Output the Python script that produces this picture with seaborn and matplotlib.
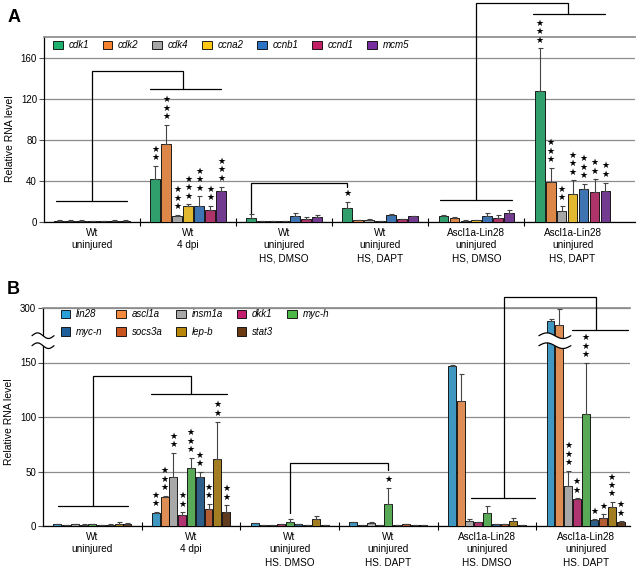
import numpy as np
import pandas as pd
import seaborn as sns
import matplotlib.pyplot as plt
import matplotlib.transforms as mtransforms
from matplotlib.patches import Patch, Polygon
from matplotlib.lines import Line2D

# group labels shared by both panels
groups = ["Wt\nuninjured", "Wt\n4 dpi", "Wt\nuninjured\nHS, DMSO", "Wt\nuninjured\nHS, DAPT",
          "Ascl1a-Lin28\nuninjured\nHS, DMSO", "Ascl1a-Lin28\nuninjured\nHS, DAPT"]

# panel A: cell cycle genes (rows = genes, columns = groups)
genes_a = ["cdk1", "cdk2", "cdk4", "ccna2", "ccnb1", "ccnd1", "mcm5"]
colors_a = ["#1db16e", "#f5822f", "#a6a6a6", "#ffc812", "#2c73c6", "#c21f66", "#772d9e"]
values_a = [[1.2, 42, 4.3, 13.3, 6.2, 127],
            [1.0, 76, 0.8, 1.6, 3.9, 38.8],
            [1.3, 5.8, 1.0, 2.3, 1.3, 10.4],
            [0.9, 15.2, 0.5, 0.7, 2.0, 27.5],
            [1.0, 15.2, 5.8, 7.1, 6.2, 31.7],
            [1.3, 11.3, 3.3, 2.6, 3.9, 29.5],
            [1.1, 30.4, 4.9, 5.8, 9.1, 30.4]]
errors_a = [[0.5, 12.3, 3.2, 6.1, 0.9, 42],
            [0.8, 18.5, 0.3, 0.4, 0.6, 13.6],
            [0.3, 0.8, 0.4, 0.8, 0.3, 5.1],
            [0.2, 2.0, 0.2, 0.2, 0.3, 12.9],
            [0.3, 9.8, 3.3, 0.6, 2.9, 5.5],
            [0.6, 4.2, 1.6, 0.4, 3.2, 11.9],
            [0.4, 3.9, 1.6, 0.5, 2.9, 7.8]]
stars_a = [[0, 2, 0, 1, 0, 3],
           [0, 3, 0, 0, 0, 3],
           [0, 3, 0, 0, 0, 2],
           [0, 3, 0, 0, 0, 3],
           [0, 3, 0, 0, 0, 3],
           [0, 2, 0, 0, 0, 2],
           [0, 3, 0, 0, 0, 2]]

# panel B: reprogramming / signalling genes
genes_b = ["lin28", "ascl1a", "insm1a", "dkk1", "myc-h", "myc-n", "socs3a", "lep-b", "stat3"]
colors_b = ["#2a9fd8", "#f58a3d", "#a8a8a8", "#c41f6e", "#4cb848", "#1f5f99", "#c9541e", "#b8860b", "#6b3a13"]
values_b = [[1.5, 11.6, 2.5, 3.4, 147, 288],
            [1.0, 26.6, 1.0, 1.0, 115, 284],
            [1.5, 45, 1.0, 2.7, 4.9, 36.7],
            [1.2, 9.8, 1.5, 1.0, 3.4, 24.8],
            [1.5, 53.6, 4.0, 19.9, 12.2, 102.6],
            [1.0, 44.7, 1.5, 1.0, 1.5, 5.5],
            [1.2, 15.9, 1.0, 1.5, 1.5, 7.7],
            [1.8, 61.5, 6.1, 1.0, 4.9, 17.1],
            [1.5, 12.9, 1.0, 1.0, 1.0, 3.7]]
errors_b = [[0.4, 1.0, 0.5, 0.5, 1.0, 1.5],
            [0.3, 0.9, 0.2, 0.2, 24, 15],
            [0.4, 22, 0.3, 1.0, 1.2, 13.8],
            [0.3, 2.7, 0.3, 0.2, 0.4, 0.5],
            [0.5, 8.6, 2.5, 15, 6.2, 46.8],
            [0.3, 4.6, 0.3, 0.2, 0.2, 0.6],
            [0.3, 4.3, 0.2, 0.3, 0.3, 3.0],
            [1.5, 34.3, 3.4, 0.2, 2.1, 4.7],
            [1.2, 6.1, 0.2, 0.2, 0.2, 0.5]]
stars_b = [[0, 2, 0, 0, 0, 0],
           [0, 3, 0, 0, 0, 0],
           [0, 2, 0, 0, 0, 3],
           [0, 2, 0, 0, 0, 2],
           [0, 3, 0, 1, 0, 3],
           [0, 2, 0, 0, 0, 1],
           [0, 2, 0, 0, 0, 1],
           [0, 2, 0, 0, 0, 3],
           [0, 2, 0, 0, 0, 2]]

sns.set_theme(style="white", rc={"text.color": "black", "axes.labelcolor": "black",
                                 "xtick.color": "black", "ytick.color": "black"})
plt.rcParams["font.family"] = ["Liberation Sans", "DejaVu Sans"]

GRID = "#8c8c8c"

# broken y axis for panel B: 165..275 squeezed into a small gap
L, U, S = 165.0, 275.0, 10.0 / 110.0


def fwd(y):
    y = np.asarray(y, dtype=float)
    return np.where(y <= L, y, np.where(y <= U, L + (y - L) * S, L + (U - L) * S + (y - U)))


def inv(t):
    t = np.asarray(t, dtype=float)
    return np.where(t <= L, t, np.where(t <= L + 10, L + (t - L) / S, U + (t - L - 10)))


def long_table(genes, values, errors, stars):
    rows = []
    for gene, vals, errs, sts in zip(genes, values, errors, stars):
        for grp, v, e, s in zip(groups, vals, errs, sts):
            rows.append((grp, gene, v, e, s))
    return pd.DataFrame(rows, columns=["group", "gene", "value", "err", "stars"])


def draw_bars(ax, genes, colors, values, errors, stars):
    df = long_table(genes, values, errors, stars)
    sns.barplot(data=df, x="group", y="value", hue="gene", order=groups, hue_order=genes,
                palette=colors, edgecolor="black", linewidth=0.6, gap=0.1,
                errorbar=None, legend=False, ax=ax, zorder=3)
    for cont, errs, sts in zip(ax.containers, errors, stars):
        bars = sorted(cont, key=lambda b: b.get_x())
        for bar, e, s in zip(bars, errs, sts):
            x = bar.get_x() + bar.get_width() / 2
            h = bar.get_height()
            ax.errorbar(x, h, yerr=[[0], [e]], fmt="none", ecolor="#444444",
                        elinewidth=0.8, capsize=1.8, capthick=0.8, zorder=4)
            for k in range(s):
                ax.annotate("\u2605", (x, h + e), xytext=(0, 6.0 + 6.1 * k),
                            textcoords="offset points", ha="center", va="center",
                            fontsize=6.5, family="DejaVu Sans", annotation_clip=False)


def style_axis(ax, xmax, ymax, yticks, label_y):
    ax.yaxis.grid(True, color=GRID, lw=0.9)
    ax.set_axisbelow(True)
    ax.spines["right"].set_visible(False)
    ax.spines["top"].set_color(GRID)
    for side in ("left", "bottom"):
        ax.spines[side].set_color("black")
        ax.spines[side].set_linewidth(0.9)
    ax.set_xticks(range(len(groups)))
    ax.set_xticklabels(groups, fontsize=7.2, linespacing=1.35)
    ax.set_xticks(np.arange(0.5, len(groups) - 1, 1), minor=True)
    ax.tick_params(axis="x", which="major", length=0, pad=4)
    ax.tick_params(axis="x", which="minor", bottom=True, length=6, width=0.8,
                   direction="inout", color="black")
    ax.set_yticks(yticks)
    ax.set_yticklabels([str(t) for t in yticks])
    ax.tick_params(axis="y", left=True, length=3.5, width=0.8, color="#555555",
                   pad=1.5, labelsize=7)
    ax.set_xlabel("")
    ax.set_ylabel("Relative RNA level", fontsize=7.5)
    ax.yaxis.set_label_coords(-0.049, label_y)
    ax.set_xlim(-0.5, xmax)
    ax.set_ylim(0, ymax)


def bracket(ax, stem1, y1, stem2, y2, ytop, span1=None, span2=None):
    kw = dict(color="black", lw=0.9, clip_on=False, zorder=5, solid_joinstyle="miter")
    ax.plot([stem1, stem1, stem2, stem2], [y1, ytop, ytop, y2], **kw)
    if span1:
        ax.plot(span1, [y1, y1], **kw)
    if span2:
        ax.plot(span2, [y2, y2], **kw)


def legend(ax, genes, colors, ncol, anchor, order=None):
    handles = [Patch(facecolor=c, edgecolor="black", linewidth=0.6, label=g)
               for g, c in zip(genes, colors)]
    if order is not None:
        handles = [handles[i] for i in order]
    ax.legend(handles=handles, ncol=ncol, loc="center left", bbox_to_anchor=anchor,
              frameon=False, borderpad=0, borderaxespad=0, handlelength=1.0,
              handleheight=1.0, handletextpad=0.6, columnspacing=1.4, labelspacing=0.8,
              prop={"size": 7, "style": "italic"})


def break_mark(ax, fig, x, y, base, width, sep, amp=0.028):
    trans = fig.dpi_scale_trans + mtransforms.ScaledTranslation(x, y, base)
    t = np.linspace(-width / 2, width / 2, 60)
    wave = -amp * np.sin(2 * np.pi * t / width)
    upper = np.column_stack([t, wave + sep / 2])
    lower = np.column_stack([t, wave - sep / 2])
    ax.add_patch(Polygon(np.vstack([upper, lower[::-1]]), closed=True, facecolor="white",
                         edgecolor="none", transform=trans, clip_on=False, zorder=10))
    for c in (upper, lower):
        ax.add_line(Line2D(c[:, 0], c[:, 1], color="black", lw=0.9, transform=trans,
                           clip_on=False, zorder=11))


fig = plt.figure(figsize=(6.4, 5.66), dpi=100)
axA = fig.add_axes([44 / 640, 1 - 222 / 566, 591 / 640, 185 / 566])
axB = fig.add_axes([43 / 640, 1 - 526 / 566, 587 / 640, 218 / 566])

# ---- panel A
draw_bars(axA, genes_a, colors_a, values_a, errors_a, stars_a)
legend(axA, genes_a, colors_a, 7, (0.015, 0.955))
bracket(axA, 0.0, 20.8, 0.95, 129.4, 147.4, span1=(-0.38, 0.36), span2=(0.6, 1.34))
bracket(axA, 1.657, 9, 2.657, 34, 37.5)
bracket(axA, 4.0, 21.7, 4.956, 202, 213, span1=(3.62, 4.37), span2=(4.59, 5.34))
style_axis(axA, 5.65, 180, [0, 40, 80, 120, 160], 0.452)

# ---- panel B
draw_bars(axB, genes_b, colors_b, values_b, errors_b, stars_b)
axB.set_yscale("function", functions=(fwd, inv))
legend(axB, genes_b, colors_b, 5, (0.03, 0.93), order=[0, 5, 1, 6, 2, 7, 3, 8, 4])
bracket(axB, 0.01, 18.4, 1.0, 121.2, 138, span1=(-0.35, 0.36), span2=(0.595, 1.37))
bracket(axB, 2.0, 12, 3.0, 51, 58)
bracket(axB, 4.17, 25.4, 5.11, 280, 310, span1=(3.84, 4.49), span2=(4.86, 5.43))
style_axis(axB, 5.45, 300, [0, 50, 100, 150, 300], 0.48)

brk = L + 5 / S
break_mark(axB, fig, 0, brk, mtransforms.blended_transform_factory(axB.transAxes, axB.transData),
           width=0.22, sep=0.10)
tall = sorted(axB.containers[0], key=lambda b: b.get_x())[-1]
break_mark(axB, fig, tall.get_x() + tall.get_width() * 1.05, brk, axB.transData,
           width=0.32, sep=0.10)

fig.text(14 / 640, 1 - 18 / 566, "A", fontsize=13, fontweight="bold", ha="center", va="center")
fig.text(13 / 640, 1 - 289 / 566, "B", fontsize=13, fontweight="bold", ha="center", va="center")

fig.savefig("out.png", dpi=100)
